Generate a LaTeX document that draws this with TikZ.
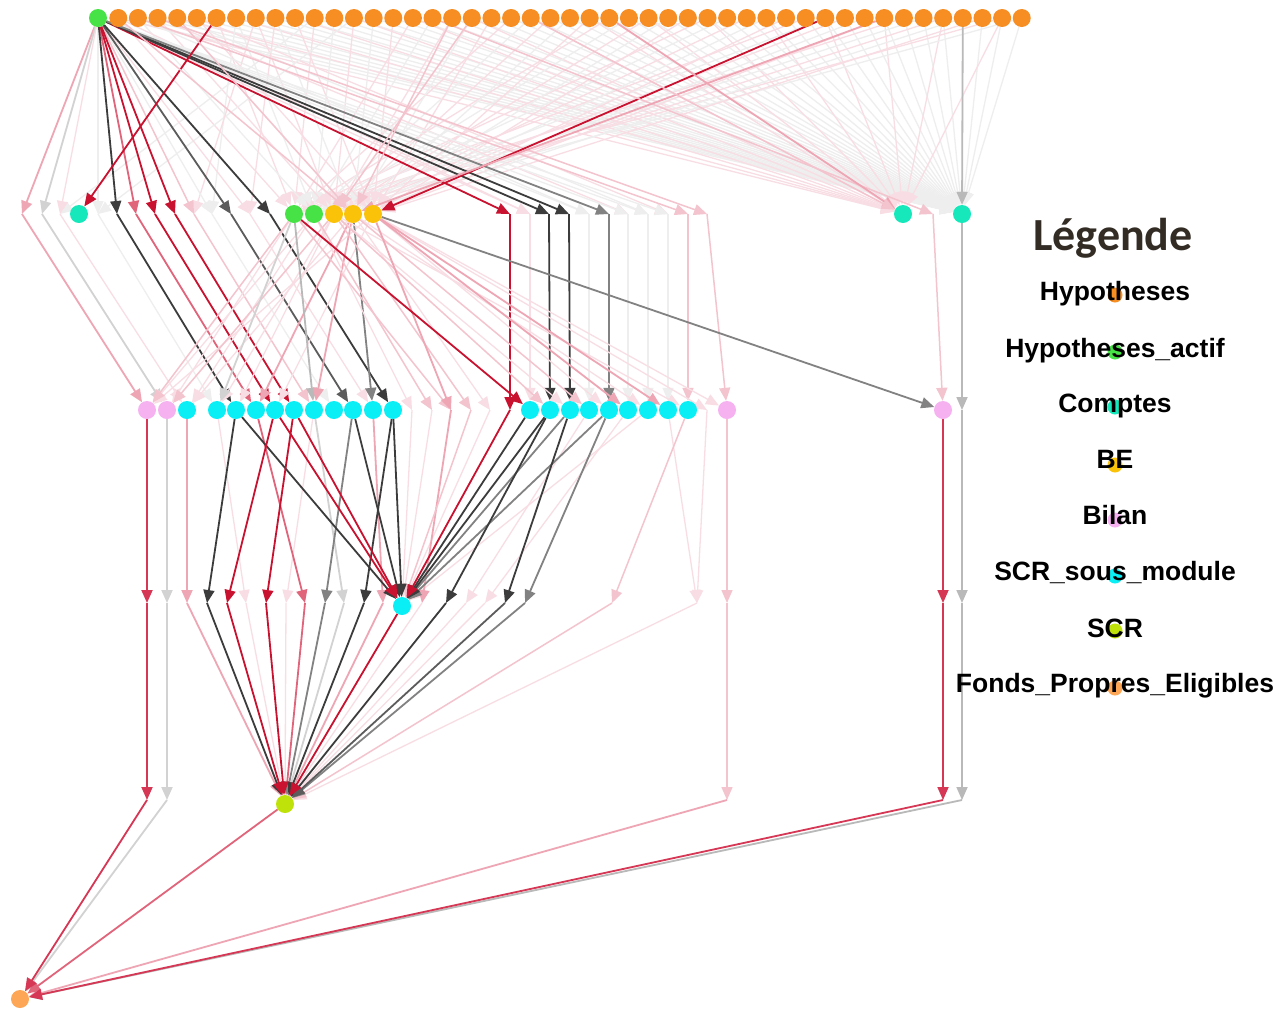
\documentclass[tikz,border=0pt]{standalone}
\usepackage{fontspec}
\newfontfamily\legfont{Carlito}
\newfontfamily\entfont{Liberation Sans}
\usetikzlibrary{arrows.meta}
\pgfdeclarelayer{paper}
\pgfdeclarelayer{links}
\pgfsetlayers{paper,links,main}

% node fills
\definecolor{cHyp}{RGB}{246,142,36}
\definecolor{cHypA}{RGB}{70,226,70}
\definecolor{cCpt}{RGB}{22,232,188}
\definecolor{cBE}{RGB}{250,195,10}
\definecolor{cBil}{RGB}{246,178,240}
\definecolor{cSsm}{RGB}{10,238,245}
\definecolor{cScr}{RGB}{190,226,10}
\definecolor{cFpe}{RGB}{252,166,86}
\definecolor{cLeg}{RGB}{50,44,36}
% link colours, from strongest to faintest
\definecolor{cDk}{RGB}{60,60,60}
\definecolor{cDg}{RGB}{92,92,92}
\definecolor{cMd}{RGB}{130,130,130}
\definecolor{cGy}{RGB}{185,185,185}
\definecolor{cLg}{RGB}{210,210,210}
\definecolor{cCr}{RGB}{200,18,48}
\definecolor{cRs}{RGB}{214,55,85}
\definecolor{cRp}{RGB}{224,100,122}
\definecolor{cPk}{RGB}{238,166,180}
\definecolor{cPl}{RGB}{243,196,206}
\definecolor{cFp}{RGB}{248,222,228}
\definecolor{cFg}{RGB}{238,238,238}

\tikzset{
  nd/.style={circle, minimum size=18pt, inner sep=0pt, draw=none},
  hyp/.style={nd, fill=cHyp},
  hypa/.style={nd, fill=cHypA},
  cpt/.style={nd, fill=cCpt},
  bes/.style={nd, fill=cBE},
  bil/.style={nd, fill=cBil},
  ssm/.style={nd, fill=cSsm},
  scrn/.style={nd, fill=cScr},
  fpe/.style={nd, fill=cFpe},
  lnk/.style={line width=1.8pt, -{Triangle[length=13pt,width=11pt]}},
  ldk/.style={lnk, draw=cDk},
  ldg/.style={lnk, draw=cDg},
  lmd/.style={lnk, draw=cMd},
  lgy/.style={lnk, draw=cGy},
  llg/.style={lnk, draw=cLg},
  lcr/.style={lnk, draw=cCr},
  lrs/.style={lnk, draw=cRs},
  lrp/.style={lnk, draw=cRp},
  lpk/.style={lnk, draw=cPk},
  lpl/.style={lnk, draw=cPl, line width=1.5pt},
  lfp/.style={lnk, draw=cFp, line width=1.3pt},
  lfg/.style={lnk, draw=cFg, line width=1.3pt},
  legtxt/.style={anchor=base, font=\entfont\bfseries\fontsize{26.5}{30}\selectfont},
  legdot/.style={circle, minimum size=15pt, inner sep=0pt, draw=none}
}

\newcommand\drawlinks[1]{%
  \foreach \s/\t/\k in {#1}{\edef\tmp{\noexpand\draw[\k] (\s) -- (\t);}\tmp}}

\begin{document}
\begin{tikzpicture}[x=1pt,y=-1pt]
\begin{pgfonlayer}{paper}
\fill[white] (0,0) rectangle (1283,1010);
\end{pgfonlayer}
\useasboundingbox (0,0) rectangle (1283,1010);

% ---- top row: hypotheses
\node[hypa] (t0) at (98,18) {};
\foreach \i in {1,...,47} \node[hyp] (o\i) at ({118.3+19.64*(\i-1)},18) {};

% ---- second row
\node[cpt]  (k1) at (79,214) {};
\node[hypa] (h1) at (294,214) {};
\node[hypa] (h2) at (314,214) {};
\node[bes]  (e1) at (334,214) {};
\node[bes]  (e2) at (353,214) {};
\node[bes]  (e3) at (373,214) {};
\node[cpt]  (k2) at (903,214) {};
\node[cpt]  (k3) at (962,214) {};
\foreach \x in {22,42,60,98,117,136,155,175,194,212,231,250,270,510,530,549,569,589,609,628,648,668,688,707,933}
  \coordinate (a\x) at (\x,214);

% ---- third row
\node[bil] (p1) at (147,410) {};
\node[bil] (p2) at (167,410) {};
\node[bil] (p3) at (727,410) {};
\node[bil] (p4) at (943,410) {};
\foreach \x in {187,217,236,256,275,294,314,334,353,373,393,530,550,570,589,609,628,648,668,688}
  \node[ssm] (s\x) at (\x,410) {};
\foreach \x in {412,432,451,471,490,510,707,962}
  \coordinate (b\x) at (\x,410);

% ---- fourth row
\node[ssm] (q) at (402,606) {};
\foreach \x in {147,167,187,207,227,246,266,286,305,325,344,364,383,422,446,466,485,505,525,612,697,727,943,962}
  \coordinate (u\x) at (\x,603);

% ---- fifth and last rows
\node[scrn] (scr) at (285,804) {};
\foreach \x in {147,167,727,943,962} \coordinate (v\x) at (\x,800);
\node[fpe] (fp) at (20,999) {};

% ---- links
\begin{pgfonlayer}{links}
% faint fans from the hypotheses
\foreach \i in {1,...,47} \draw[lfg] (o\i) -- (k3);
\foreach \i in {1,4,...,46} \draw[lfp] (o\i) -- (k2);
\foreach \i in {1,6,...,46} \draw[lfp] (o\i) -- (h1);
\foreach \i in {2,7,...,47} \draw[lfg] (o\i) -- (h2);
\foreach \i in {3,8,...,43} \draw[lfp] (o\i) -- (e1);
\foreach \i in {4,9,...,44} \draw[lfg] (o\i) -- (e2);
\foreach \i in {5,10,...,45} \draw[lfp] (o\i) -- (e3);
\drawlinks{o1/a530/lfp,o2/a589/lfg,o3/a628/lfp,o4/a648/lfg,o5/a668/lfp,
  o7/a212/lfg,o9/a250/lfp,o11/a60/lfg,o13/a98/lfg,o8/a194/lfp}

% first row to second row
\drawlinks{t0/a22/lpk,t0/a42/llg,t0/a60/lfp,t0/a98/lfg,t0/a212/lfg,t0/a250/lfp,
  t0/a530/lfp,t0/a589/lfg,t0/a628/lfg,t0/a648/lfg,t0/a668/lfg,t0/a194/lpl,
  t0/a136/lrp,t0/a155/lcr,t0/a175/lcr,t0/a231/ldg,t0/a270/ldk,t0/a117/ldk,
  t0/a510/lcr,t0/a549/ldk,t0/a569/ldk,t0/a609/lmd,
  o2/a688/lpl,o3/a707/lpl,o6/k1/lcr,o37/e3/lcr,o4/e2/lpl,o18/e2/lpl,o19/e1/lpl,
  o1/e2/lpl,o44/k3/lgy,o17/a933/lpl,o40/e2/lpk,o26/k2/lpk,o22/k2/lpl}

% second row to third row
\drawlinks{a60/s187/lfp,a98/s217/lfg,a212/s334/lfg,a250/s373/lfp,a194/s314/lpl,
  a22/p1/lpk,a42/p2/llg,a117/s236/ldk,a136/s256/lrp,a155/s275/lcr,a175/s294/lcr,
  a231/s353/ldg,a270/s393/ldk,
  a530/s530/lfp,a589/s589/lfg,a628/s628/lfg,a648/s648/lfg,a668/s668/lfg,a688/s688/lpl,
  a707/p3/lpl,a510/b510/lcr,a549/s550/ldk,a569/s570/ldk,a609/s609/lmd,
  a933/p4/lpl,k3/b962/lgy}
\drawlinks{h1/p2/lfp,h2/p1/lfp,h2/s187/lfp,e1/s217/lfp,e2/s187/lfp,e3/p1/lfp,
  e1/s236/lfp,e3/s275/lfp,h1/p1/lpl,e1/p2/lpl,e2/s256/lpk,h1/s217/llg,
  h1/s314/lgy,e2/s373/lmd,e2/s314/lpk,
  e1/s570/lfp,e3/s609/lfp,e2/s648/lfp,e1/s688/lfp,e3/p3/lfp,h2/b412/lfp,
  e2/b490/lfp,e3/b707/lfp,e1/s550/lpl,e2/s589/lpl,h2/b432/lpl,e1/b471/lpl,
  h1/b451/lpl,e3/b451/lpk,e3/s628/lpk,e3/s668/lpk,h1/s530/lcr,e3/p4/lmd}

% third row to fourth row
\drawlinks{s217/u246/lfp,s314/u286/lfp,b412/q/lfp,b432/q/lfp,b490/q/lfp,
  s589/u466/lfp,s628/u485/lfp,s648/q/lfp,s668/u697/lfp,b707/u697/lfp,
  p1/u147/lrs,p2/u167/llg,s187/u187/lpk,p3/u727/lpl,p4/u943/lrs,b962/u962/lgy,
  s256/u305/lrp,s314/u344/llg,s373/u383/lpk,b451/u422/lpk,b471/q/lpl,s688/u612/lpl,
  s353/u325/lmd,s570/q/lmd,s609/u525/lmd,s609/q/lmd,
  s236/u207/ldk,s236/q/ldk,s353/q/ldk,s393/u364/ldk,s393/q/ldk,
  s530/q/ldk,s550/q/ldk,s550/u446/ldk,s570/u505/ldk,
  s275/u227/lcr,s275/q/lcr,s294/u266/lcr,s294/q/lcr,b510/q/lcr}

% fourth row to fifth row
\drawlinks{u246/scr/lfp,u286/scr/lfp,u422/scr/lfp,u466/scr/lfp,u485/scr/lfp,u697/scr/lfp,
  u187/scr/lpk,u383/scr/lpk,u612/scr/lpl,u344/scr/llg,u305/scr/lrp,
  u325/scr/lmd,u525/scr/lmd,u207/scr/ldk,u364/scr/ldk,u446/scr/ldk,u505/scr/ldg,
  u227/scr/lcr,u266/scr/lcr,q/scr/lcr,
  u147/v147/lrs,u167/v167/llg,u727/v727/lpl,u943/v943/lrs,u962/v962/lgy}

% fifth row to the last node
\drawlinks{v167/fp/llg,v962/fp/lgy,v727/fp/lpk,scr/fp/lrp,v147/fp/lrs,v943/fp/lrs}
\end{pgfonlayer}

% ---- legend
\node[anchor=base, text=cLeg, font=\legfont\bfseries\fontsize{46}{50}\selectfont] (legt) at (1113,250) {Légende};
\node[legdot, fill=cHyp]  (d1) at (1115,295) {};
\node[legtxt] (l1) at (1115,300) {Hypotheses};
\node[legdot, fill=cHypA] (d2) at (1115,352) {};
\node[legtxt] (l2) at (1115,357) {Hypotheses\_actif};
\node[legdot, fill=cCpt]  (d3) at (1115,407) {};
\node[legtxt] (l3) at (1115,412) {Comptes};
\node[legdot, fill=cBE]   (d4) at (1115,465) {};
\node[legtxt] (l4) at (1115,468) {BE};
\node[legdot, fill=cBil]  (d5) at (1115,520) {};
\node[legtxt] (l5) at (1115,524) {Bilan};
\node[legdot, fill=cSsm]  (d6) at (1115,576) {};
\node[legtxt] (l6) at (1115,580) {SCR\_sous\_module};
\node[legdot, fill=cScr]  (d7) at (1115,631) {};
\node[legtxt] (l7) at (1115,637) {SCR};
\node[legdot, fill=cFpe]  (d8) at (1115,688) {};
\node[legtxt] (l8) at (1115,692) {Fonds\_Propres\_Eligibles};
\end{tikzpicture}
\end{document}
